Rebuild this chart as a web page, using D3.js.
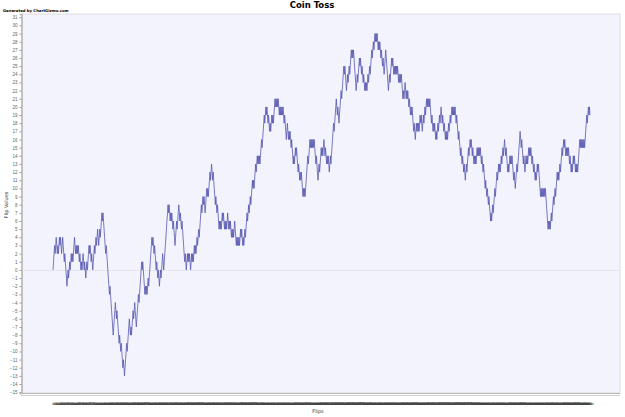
<!DOCTYPE html>
<html>
<head>
<meta charset="utf-8">
<script src="https://cdn.jsdelivr.net/npm/d3@7"></script>
<style>
	body {margin:0; background:#fff}
	svg {display:block; font-family:"DejaVu Sans", sans-serif}
</style>
</head>
<body>
<svg id="chart" width="625" height="417"></svg>
<script>
/*** Data ***/
var title = "Coin Toss"
var credit = "Generated by ChartGizmo.com"
var xTitle = "Flips"
var yTitle = "Flip Values"
var yTicks = d3.range(-15, 32)

var flipValues = [
	0,1,2,3,2,3,4,3,2,3,2,3,4,3,4,3,2,3,4,
	3,2,1,2,1,0,-1,-2,-1,0,-1,0,1,0,1,2,1,2,1,2,3,4,3,2,3,2,3,2,3,
	2,1,2,1,0,1,0,1,2,1,0,1,0,-1,0,1,0,1,2,3,2,3,2,1,2,1,0,1,
	2,3,2,3,4,3,4,5,4,3,4,5,4,5,6,7,6,7,6,
	5,4,3,2,3,2,1,0,-1,-2,-3,-2,-3,-4,-5,-6,-7,-8,
	-7,-6,-5,-4,-5,-6,-5,-6,-7,-8,-9,-8,-9,-10,-9,-10,-11,-12,-11,-12,-13,-12,
	-11,-10,-9,-10,-9,-8,-7,-6,-7,-8,-7,-8,-7,-6,-5,-6,-5,-4,-5,-6,-7,
	-6,-5,-4,-3,-4,-3,-2,-1,0,1,0,1,0,-1,-2,-3,-2,-3,-2,-3,-2,-1,-2,-1,0,1,
	2,3,4,3,4,3,2,3,2,1,0,1,0,-1,0,-1,-2,-1,0,-1,0,1,2,1,0,1,2,3,
	4,5,6,7,8,7,8,7,6,7,6,7,6,5,6,5,4,3,4,5,6,5,6,7,8,
	7,6,7,6,5,6,5,4,3,2,1,2,1,0,1,2,1,2,1,2,1,0,1,2,1,2,1,2,3,2,3,2,3,
	4,3,4,5,4,5,6,7,8,7,8,9,8,9,8,7,8,9,10,9,10,9,10,11,12,11,12,13,
	12,11,12,11,10,9,8,9,8,7,8,7,6,5,6,5,6,5,6,7,6,7,6,5,6,5,6,5,
	6,7,6,5,6,5,6,5,4,5,4,5,4,5,6,5,4,3,4,3,4,3,4,3,4,5,4,5,4,3,4,3,
	4,5,4,5,6,7,6,7,8,7,8,9,8,9,10,11,10,11,10,11,12,13,12,13,14,13,14,13,14,13,
	14,15,16,15,16,17,18,19,18,19,20,19,20,19,18,19,18,17,18,17,
	18,19,18,19,18,19,20,21,20,21,20,21,20,21,20,19,20,19,20,19,20,
	19,20,19,18,19,18,17,16,17,18,17,16,17,16,17,16,15,16,15,14,13,14,13,14,15,14,15,14,13,
	12,13,12,11,12,11,12,11,10,9,10,9,10,9,10,11,12,13,14,13,14,15,16,
	15,16,15,16,15,16,15,16,15,14,13,14,13,12,11,12,13,12,13,14,15,14,15,
	14,15,16,15,14,15,14,13,14,13,14,13,12,13,14,13,14,15,
	16,17,18,17,18,19,20,21,20,19,20,19,18,19,20,21,22,21,22,23,24,25,
	24,25,24,23,22,23,24,23,24,25,24,25,26,27,26,27,26,27,26,25,24,23,22,
	23,24,23,24,25,26,25,26,25,24,25,24,23,24,23,22,23,22,23,22,
	23,24,23,24,25,24,25,26,27,26,27,28,27,28,29,28,29,28,29,28,27,28,
	27,28,27,26,27,26,25,26,25,24,25,26,27,26,25,24,23,22,
	23,24,23,24,25,26,25,26,25,24,25,24,25,24,25,
	24,25,24,23,24,23,24,23,24,23,22,21,22,21,22,23,22,21,22,21,22,21,
	20,21,20,19,20,19,20,19,18,17,18,17,16,17,18,17,18,17,18,17,18,19,
	18,19,18,17,18,19,18,19,20,19,20,21,20,21,20,21,20,21,20,19,
	18,19,18,17,18,17,18,17,16,17,16,17,18,17,18,19,18,19,20,19,18,19,
	18,17,18,17,16,17,16,17,16,17,18,17,18,19,18,19,20,19,20,19,20,19,20,
	19,18,19,18,17,16,17,16,15,14,15,14,13,14,13,12,13,12,11,
	12,13,12,13,14,15,14,15,16,15,16,15,14,15,14,13,14,13,
	14,13,14,15,14,15,14,15,14,15,14,13,14,13,12,13,12,11,
	10,11,10,9,10,9,8,9,8,7,6,7,6,7,8,7,8,9,10,9,10,11,
	12,11,12,13,12,13,12,13,14,13,14,15,14,15,16,15,14,15,14,13,12,
	13,12,13,14,13,14,13,14,13,12,11,12,11,10,11,12,13,12,13,14,15,16,17,
	16,15,16,15,14,13,14,13,12,13,14,13,14,13,14,15,14,15,
	14,15,14,13,14,13,12,13,12,11,12,11,12,13,12,13,12,11,10,
	9,10,9,10,9,10,9,10,9,10,9,8,7,6,5,6,5,6,5,6,7,6,7,8,9,8,9,
	10,9,10,11,12,11,12,11,12,13,12,13,14,15,14,15,16,15,16,15,14,
	15,14,15,14,15,14,13,14,13,12,13,12,13,14,13,14,13,12,13,12,13,12,
	13,14,15,16,15,16,15,16,15,16,15,16,15,16,17,18,19,18,19,20,19,20,19
]

/*** Draw ***/
function draw() {
	var m = d3.select("#chart")
	var l = 22, r = 620, t = 14, b = 393
	var x = d3.scalePoint().domain(d3.range(flipValues.length)).range([53, 590])
	var y = d3.scaleLinear().domain([-15.1, 31.4]).range([b, t])

	m.append("rect")
	 .attr("x", l).attr("y", t)
	 .attr("width", r - l).attr("height", b - t)
	 .attr("fill", "#f3f3fd")
	 .attr("stroke", "#d4d4d4")
	 .attr("stroke-width", 0.8)

	m.append("line")
	 .attr("x1", l).attr("x2", r)
	 .attr("y1", Math.round(y(0)) + .5).attr("y2", Math.round(y(0)) + .5)
	 .attr("stroke", "#e4e4ee")

	var ya = m.append("g")
	          .attr("transform", "translate(" + (l - 0.5) + ",0)")
	          .call(d3.axisLeft(y).tickValues(yTicks).tickSize(2).tickPadding(2).tickFormat(d3.format("d")))
	ya.select(".domain").attr("stroke", "#b8b8b8").attr("stroke-width", 1.6)
	ya.selectAll(".tick line").attr("stroke", "#999")
	ya.selectAll(".tick text").attr("fill", "#666").attr("font-size", 4.6)

	m.append("line")
	 .attr("x1", l - 1).attr("x2", r)
	 .attr("y1", b + 0.5).attr("y2", b + 0.5)
	 .attr("stroke", "#b8b8b8")
	m.append("line")
	 .attr("x1", l - 1).attr("x2", r)
	 .attr("y1", b + 2.5).attr("y2", b + 2.5)
	 .attr("stroke", "#cfcfcf")

	// one label per flip, they pile up into the dark band of the original
	m.append("g")
	 .attr("class", "xlabels")
	 .selectAll("text")
	 .data(flipValues)
	 .enter()
	 .append("text")
	 .attr("x", (d, i) => x(i))
	 .attr("y", 405)
	 .attr("text-anchor", "middle")
	 .attr("font-size", 3)
	 .attr("fill", "#444")
	 .text((d, i) => i + 1)

	var line = d3.line()
	             .x((d, i) => x(i))
	             .y((d) => y(d))
	m.append("path")
	 .datum(flipValues)
	 .attr("d", line)
	 .attr("fill", "none")
	 .attr("stroke", "#5858b0")
	 .attr("stroke-width", 0.8)

	m.append("text")
	 .attr("x", 312).attr("y", 8)
	 .attr("text-anchor", "middle")
	 .attr("font-size", 8.5).attr("font-weight", "bold")
	 .text(title)
	m.append("text")
	 .attr("x", 3).attr("y", 12)
	 .attr("font-size", 3.8).attr("font-weight", "bold")
	 .text(credit)
	m.append("text")
	 .attr("x", 318).attr("y", 413)
	 .attr("text-anchor", "middle")
	 .attr("font-size", 5).attr("fill", "#333")
	 .text(xTitle)
	m.append("text")
	 .attr("transform", "translate(8,205) rotate(-90)")
	 .attr("text-anchor", "middle")
	 .attr("font-size", 5).attr("fill", "#333")
	 .text(yTitle)
}

draw()
</script>
</body>
</html>
